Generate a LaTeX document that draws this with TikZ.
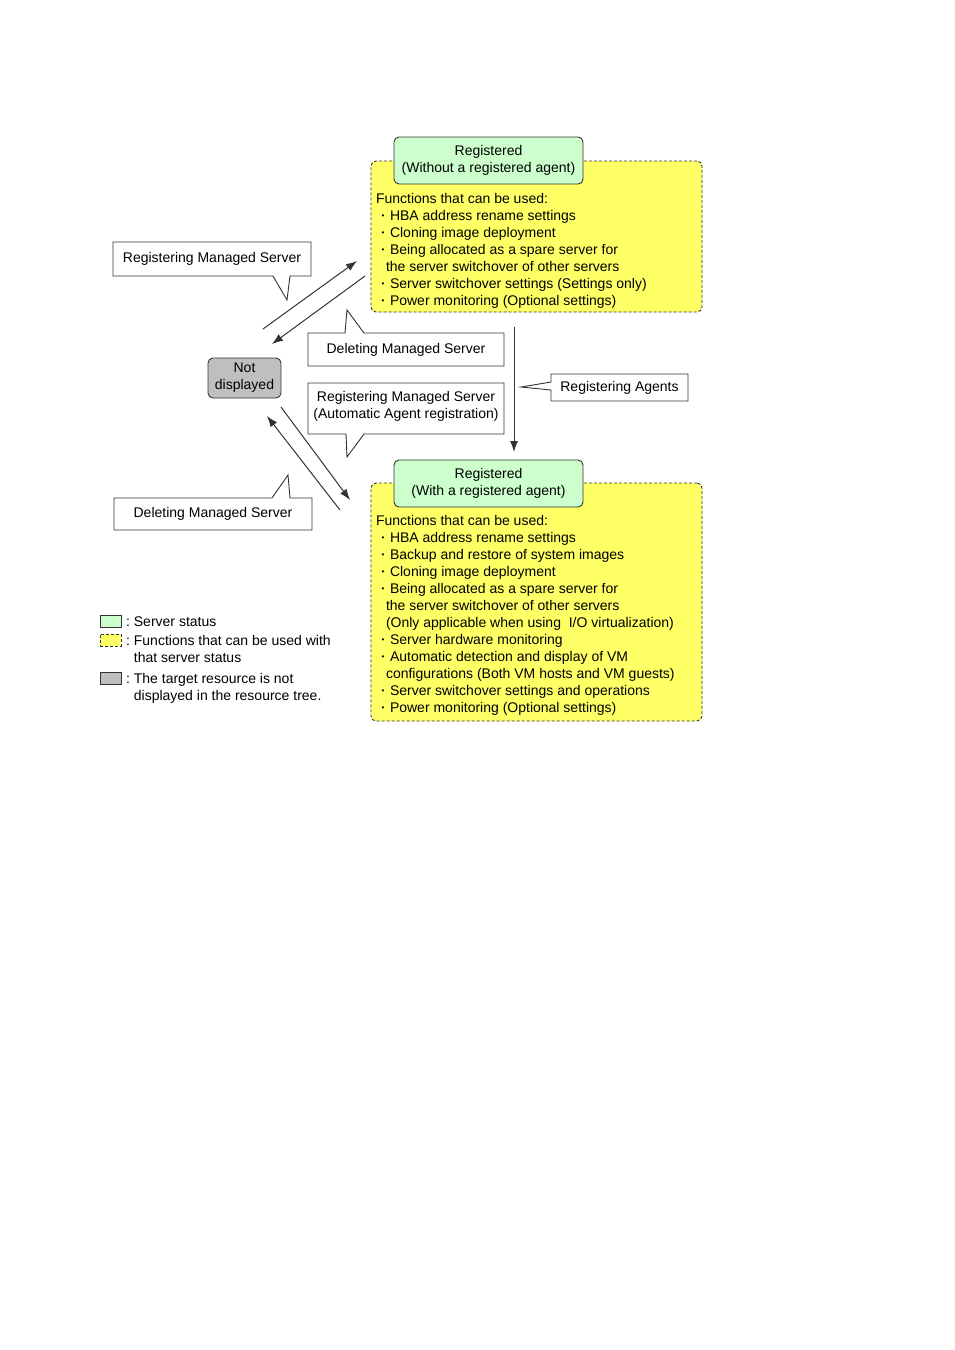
\documentclass[tikz,border=0pt]{standalone}
\usepackage{fontspec}
\setmainfont{Liberation Sans}
\usepackage{tikz}
\usetikzlibrary{positioning,arrows.meta}
\definecolor{statclr}{rgb}{0.80, 1.00, 0.80}
\definecolor{funcclr}{rgb}{1.00, 1.00, 0.40}
\definecolor{hideclr}{rgb}{0.75, 0.75, 0.75}
\definecolor{lineclr}{rgb}{0.2, 0.2, 0.2}
\newcommand{\itm}{\makebox[14pt]{\raisebox{1.6pt}{\fontsize{8}{17}\selectfont\textbullet}}}
\newcommand{\cont}{\hspace*{10pt}}
\tikzset{ %
  ,>={Latex[length=11pt,width=8pt]}
  ,every node/.style={font=\fontsize{14}{17}\selectfont, inner sep=0, outer sep=0}
  ,status/.style={draw=lineclr, line width=0.9pt, rounded corners=5pt, fill=statclr, minimum width=189pt, minimum height=47pt, align=center}
  ,funcs/.style={draw=lineclr, line width=0.9pt, dash pattern=on 3pt off 2pt, rounded corners=5pt, fill=funcclr, minimum width=331pt}
  ,hidden/.style={draw=lineclr, line width=0.9pt, rounded corners=5pt, fill=hideclr, minimum width=73pt, minimum height=40pt, align=center}
  ,callbox/.style={minimum width=198pt, align=center}
  ,callout/.style={draw=lineclr, line width=0.9pt, fill=white}
  ,flist/.style={anchor=north west, align=left}
  ,keybox/.style={draw=lineclr, line width=0.9pt, minimum width=21pt, minimum height=12pt}
  ,trans/.style={draw=lineclr, line width=1pt, ->}
}

\begin{document}
\begin{tikzpicture}[x=1pt, y=-1pt]
  \useasboundingbox (0,0) rectangle (954,1350);

  % function areas and server states
  \node[funcs, minimum height=151pt] (ftop) at (536.5,236.5) {};
  \node[funcs, minimum height=238pt] (fbot) at (536.5,602) {};
  \node[status] (rnoag) at (488.5,160.5) {Registered\\(Without a registered agent)};
  \node[status] (rwag) at (488.5,483.5) {Registered\\(With a registered agent)};
  \node[hidden] (nd) at (244.5,378) {Not\\displayed};

  \node[flist] (ltop) at (376,191.1) {\strut Functions that can be used:\\
    \itm HBA address rename settings\\
    \itm Cloning image deployment\\
    \itm Being allocated as a spare server for\\
    \cont the server switchover of other servers\\
    \itm Server switchover settings (Settings only)\\
    \itm Power monitoring (Optional settings)};
  \node[flist] (lbot) at (376,513.1) {\strut Functions that can be used:\\
    \itm HBA address rename settings\\
    \itm Backup and restore of system images\\
    \itm Cloning image deployment\\
    \itm Being allocated as a spare server for\\
    \cont the server switchover of other servers\\
    \cont (Only applicable when using~ I/O virtualization)\\
    \itm Server hardware monitoring\\
    \itm Automatic detection and display of VM\\
    \cont configurations (Both VM hosts and VM guests)\\
    \itm Server switchover settings and operations\\
    \itm Power monitoring (Optional settings)};

  % transitions
  \coordinate (regs) at (263,329);
  \coordinate (rege) at (357,261);
  \coordinate (dels) at (365,276);
  \coordinate (dele) at (272,344);
  \coordinate (autos) at (281,407);
  \coordinate (autoe) at (350,500);
  \coordinate (delbs) at (340,510);
  \coordinate (delbe) at (267,416);
  \coordinate (agts) at (514,327);
  \coordinate (agte) at (514,452);
  \draw[trans] (regs) -- (rege);
  \draw[trans] (dels) -- (dele);
  \draw[trans] (autos) -- (autoe);
  \draw[trans] (delbs) -- (delbe);
  \draw[trans] (agts) -- (agte);

  % callouts
  \node[callbox, minimum height=34pt] (regms) at (212,259) {};
  \draw[callout] (regms.north west) -- (regms.north east) -- (regms.south east)
    -- ([xshift=177pt]regms.south west) -- ([xshift=174pt,yshift=-24pt]regms.south west)
    -- ([xshift=160pt]regms.south west) -- (regms.south west) -- cycle;
  \node[callbox] at (regms) {Registering Managed Server};

  \node[callbox, minimum width=196pt, minimum height=33pt] (delms) at (406,349.5) {};
  \draw[callout] (delms.south west) -- (delms.north west)
    -- ([xshift=37pt]delms.north west) -- ([xshift=39pt,yshift=23pt]delms.north west)
    -- ([xshift=56pt]delms.north west) -- (delms.north east) -- (delms.south east) -- cycle;
  \node[callbox] at (delms) {Deleting Managed Server};

  \node[callbox, minimum width=196pt, minimum height=51pt] (automs) at (406,408.5) {};
  \draw[callout] (automs.north west) -- (automs.north east) -- (automs.south east)
    -- ([xshift=56pt]automs.south west) -- ([xshift=39pt,yshift=-23pt]automs.south west)
    -- ([xshift=38pt]automs.south west) -- (automs.south west) -- cycle;
  \node[callbox] (autotxt) at (406,406.5) {Registering Managed Server\\(Automatic Agent registration)};

  \node[callbox, minimum width=137pt, minimum height=27pt] (agt) at (619.5,387.5) {};
  \draw[callout] (agt.north west) -- (agt.north east) -- (agt.south east) -- (agt.south west)
    -- ([yshift=-16pt]agt.north west) -- ([xshift=-30pt,yshift=-13pt]agt.north west)
    -- ([yshift=-8pt]agt.north west) -- cycle;
  \node[callbox] at (agt) {Registering Agents};

  \node[callbox, minimum height=32pt] (delb) at (213,514) {};
  \draw[callout] (delb.south west) -- (delb.north west)
    -- ([xshift=158pt]delb.north west) -- ([xshift=174pt,yshift=23pt]delb.north west)
    -- ([xshift=176pt]delb.north west) -- (delb.north east) -- (delb.south east) -- cycle;
  \node[callbox] at (delb) {Deleting Managed Server};

  % legend
  \node[keybox, fill=statclr] (kstatbox) at (110.5,621) {};
  \node[keybox, fill=funcclr, dash pattern=on 3pt off 2pt] (kfuncbox) at (110.5,640) {};
  \node[keybox, fill=hideclr] (khidebox) at (110.5,678) {};
  \node[anchor=base west] (kstat) at (126,626) {:\hspace{4pt}Server status};
  \node[flist] (kfunc) at (126,633.1) {\strut:\hspace{4pt}Functions that can be used with\\\phantom{:}\hspace{4pt}that server status};
  \node[flist] (khide) at (126,671.1) {\strut:\hspace{4pt}The target resource is not\\\phantom{:}\hspace{4pt}displayed in the resource tree.};
\end{tikzpicture}
\end{document}
